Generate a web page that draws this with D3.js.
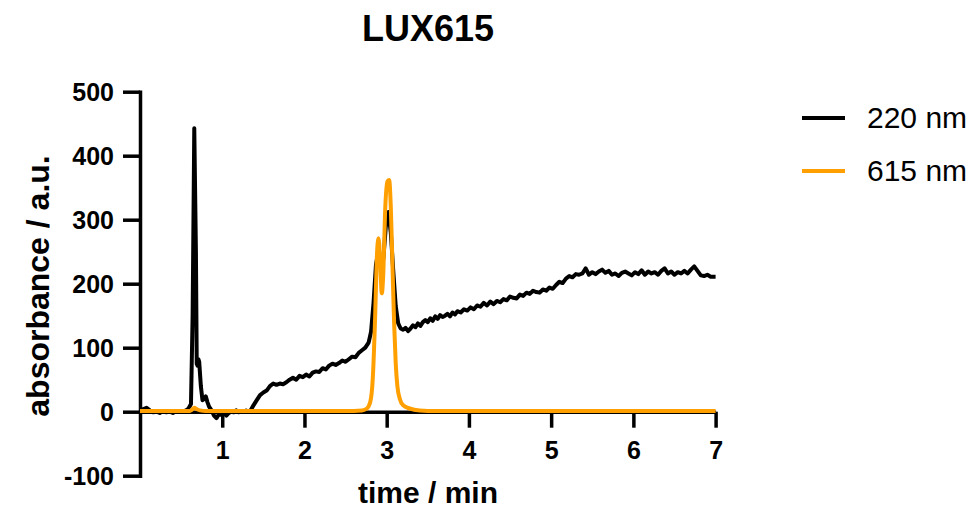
<!DOCTYPE html>
<html>
<head>
<meta charset="utf-8">
<script src="https://cdn.jsdelivr.net/npm/d3@7"></script>
<style>
  body { margin: 0; background: #fff; }
  svg { display: block; font-family: "Liberation Sans", Arial, sans-serif; }
</style>
</head>
<body>
<div id="chart"></div>
<script>
// chromatogram traces: [time in min, absorbance]
const trace220 = [
	[0.00, 2], [0.04, 4], [0.08, 6], [0.12, 2], [0.16, -1], [0.20, 0], [0.24, -2], [0.28, 1],
	[0.32, -1], [0.36, 0], [0.40, -2], [0.44, 1], [0.48, 0], [0.52, 0], [0.56, 2], [0.59, 5],
	[0.62, 12], [0.64, 150], [0.66, 443], [0.68, 250], [0.69, 75], [0.70, 72], [0.71, 82], [0.72, 78],
	[0.74, 40], [0.76, 18], [0.78, 20], [0.80, 24], [0.82, 15], [0.84, 8], [0.87, 2], [0.90, -6],
	[0.93, -10], [0.96, -4], [0.99, -5], [1.02, -2], [1.05, -6], [1.08, -2], [1.11, 0], [1.14, -1],
	[1.17, 2], [1.20, -1], [1.23, 1], [1.26, 0], [1.29, 2], [1.32, 0], [1.35, 3], [1.38, 10],
	[1.42, 18], [1.46, 26], [1.50, 30], [1.54, 33], [1.58, 40], [1.62, 44], [1.66, 42], [1.70, 44],
	[1.74, 43], [1.78, 46], [1.82, 50], [1.86, 53], [1.90, 50], [1.94, 56], [1.98, 54], [2.02, 58],
	[2.06, 55], [2.10, 61], [2.14, 63], [2.18, 62], [2.22, 68], [2.26, 66], [2.30, 72], [2.34, 75],
	[2.38, 73], [2.42, 76], [2.46, 80], [2.50, 78], [2.54, 82], [2.58, 86], [2.62, 85], [2.66, 92],
	[2.70, 96], [2.74, 100], [2.78, 108], [2.81, 125], [2.84, 170], [2.87, 230], [2.90, 252], [2.92, 240],
	[2.94, 226], [2.96, 240], [2.99, 290], [3.02, 312], [3.05, 280], [3.08, 220], [3.11, 165], [3.14, 138],
	[3.17, 130], [3.20, 128], [3.23, 131], [3.26, 126], [3.29, 130], [3.32, 135], [3.35, 132], [3.38, 138],
	[3.41, 134], [3.44, 140], [3.47, 143], [3.50, 140], [3.53, 146], [3.56, 142], [3.59, 149], [3.62, 145],
	[3.65, 151], [3.68, 148], [3.71, 150], [3.74, 153], [3.77, 149], [3.80, 155], [3.83, 152], [3.86, 157],
	[3.90, 155], [3.94, 160], [3.98, 158], [4.02, 163], [4.06, 160], [4.10, 166], [4.14, 164], [4.18, 170],
	[4.22, 166], [4.26, 172], [4.30, 168], [4.34, 173], [4.38, 171], [4.42, 176], [4.46, 174], [4.50, 180],
	[4.54, 178], [4.58, 177], [4.62, 183], [4.66, 181], [4.70, 186], [4.74, 184], [4.78, 189], [4.82, 187],
	[4.86, 186], [4.90, 191], [4.94, 189], [4.98, 194], [5.02, 192], [5.06, 198], [5.10, 203], [5.14, 201],
	[5.18, 208], [5.22, 212], [5.26, 210], [5.30, 215], [5.34, 214], [5.38, 216], [5.42, 224], [5.46, 214],
	[5.50, 218], [5.54, 215], [5.58, 219], [5.62, 222], [5.66, 217], [5.70, 220], [5.74, 214], [5.78, 216],
	[5.82, 212], [5.86, 217], [5.90, 219], [5.94, 216], [5.98, 213], [6.02, 218], [6.06, 215], [6.10, 221],
	[6.14, 214], [6.18, 219], [6.22, 216], [6.26, 218], [6.30, 214], [6.34, 220], [6.38, 224], [6.42, 216],
	[6.46, 219], [6.50, 214], [6.54, 218], [6.58, 216], [6.62, 220], [6.66, 216], [6.70, 222], [6.74, 227],
	[6.78, 220], [6.82, 213], [6.86, 212], [6.90, 214], [6.94, 211], [7.00, 211],
];
const trace615 = [
	[0.00, 1], [0.60, 1], [0.63, 3], [0.66, 6], [0.69, 4], [0.73, 2], [0.80, 1], [1.50, 1],
	[2.50, 1], [2.70, 2], [2.76, 5], [2.80, 15], [2.83, 50], [2.86, 150], [2.88, 240], [2.90, 271],
	[2.92, 240], [2.94, 185], [2.96, 220], [2.98, 310], [3.01, 360], [3.03, 362], [3.05, 320], [3.07, 230],
	[3.09, 140], [3.11, 75], [3.13, 40], [3.16, 20], [3.20, 10], [3.28, 5], [3.40, 2], [3.60, 1],
	[7.00, 1],
];
const seriesNames = ["220 nm", "615 nm"];
const seriesColors = ["#000000", "#ff9f00"];
const xTicks = [1, 2, 3, 4, 5, 6, 7];
const yTicks = [-100, 0, 100, 200, 300, 400, 500];

const width = 973;
const height = 510;
const svg = d3.select("#chart")
	.append("svg")
	.attr("width", width)
	.attr("height", height);

const x = d3.scaleLinear().domain([0, 7]).range([140, 715.6]);
const y = d3.scaleLinear().domain([-100, 500]).range([475.7, 91.7]);
const fmt = v => String(v); // plain hyphen minus, no decimals

// title
svg.append("text")
	.attr("x", 428)
	.attr("y", 41)
	.attr("text-anchor", "middle")
	.attr("font-size", 36)
	.attr("font-weight", "bold")
	.text("LUX615");

const line = d3.line()
	.x(d => x(d[0]))
	.y(d => y(d[1]));
const smoothLine = d3.line()
	.curve(d3.curveMonotoneX)
	.x(d => x(d[0]))
	.y(d => y(d[1]));

// y axis
const yAxis = svg.append("g")
	.attr("transform", `translate(${x(0)}, 0)`)
	.call(d3.axisLeft(y).tickValues(yTicks).tickFormat(fmt).tickSize(17).tickPadding(9).tickSizeOuter(0));
yAxis.select(".domain").attr("stroke-width", 3.5).attr("stroke-linecap", "square");
yAxis.selectAll(".tick line").attr("stroke-width", 3.5);
yAxis.selectAll(".tick text")
	.attr("dy", "0.36em")
	.attr("font-size", 25)
	.attr("font-weight", "bold")
	.attr("font-family", "'Liberation Sans', Arial, sans-serif")
	.attr("fill", "#000");

// x axis sits on zero
const xAxis = svg.append("g")
	.attr("transform", `translate(0, ${y(0)})`)
	.call(d3.axisBottom(x).tickValues(xTicks).tickFormat(fmt).tickSize(16).tickSizeOuter(0));
xAxis.select(".domain").attr("stroke-width", 3.5);
xAxis.selectAll(".tick line").attr("stroke-width", 3.5);
xAxis.selectAll(".tick text")
	.attr("dy", null)
	.attr("y", 47.5)
	.attr("font-size", 25)
	.attr("font-weight", "bold")
	.attr("font-family", "'Liberation Sans', Arial, sans-serif")
	.attr("fill", "#000");

// traces, orange drawn on top
svg.append("path")
	.datum(trace220)
	.attr("fill", "none")
	.attr("stroke", seriesColors[0])
	.attr("stroke-width", 4)
	.attr("stroke-linejoin", "round")
	.attr("d", line);

svg.append("path")
	.datum(trace615)
	.attr("fill", "none")
	.attr("stroke", seriesColors[1])
	.attr("stroke-width", 4)
	.attr("stroke-linejoin", "round")
	.attr("d", smoothLine);

// axis titles
svg.append("text")
	.attr("x", 428)
	.attr("y", 503)
	.attr("text-anchor", "middle")
	.attr("font-size", 30)
	.attr("font-weight", "bold")
	.text("time / min");

svg.append("text")
	.attr("transform", "translate(49, 286) rotate(-90)")
	.attr("text-anchor", "middle")
	.attr("font-size", 32)
	.attr("font-weight", "bold")
	.text("absorbance / a.u.");

// legend
const legend = svg.append("g")
	.selectAll("g")
	.data(seriesNames)
	.enter()
	.append("g")
	.attr("transform", (d, i) => `translate(802, ${118 + i * 53})`);
legend.append("line")
	.attr("x1", 0)
	.attr("x2", 43)
	.attr("stroke", (d, i) => seriesColors[i])
	.attr("stroke-width", 4);
legend.append("text")
	.attr("x", 65)
	.attr("y", 10)
	.attr("font-size", 30)
	.text(d => d);
</script>
</body>
</html>
